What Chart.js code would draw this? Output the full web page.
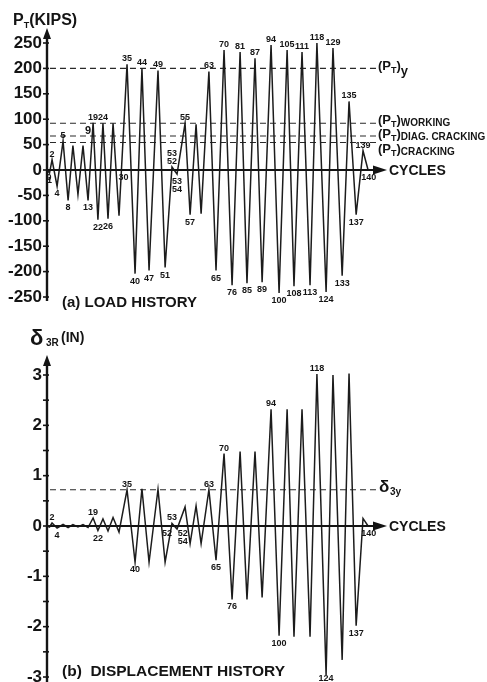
<!DOCTYPE html>
<html><head><meta charset="utf-8">
<script src="https://cdn.jsdelivr.net/npm/chart.js@4.4.1/dist/chart.umd.min.js"></script>
<style>
html,body{margin:0;padding:0;background:#fff;overflow:hidden;width:487px;height:682px}
canvas{position:absolute;left:0}
#a{top:0}
#b{top:315px}
</style></head><body>
<canvas id="a" width="487" height="315"></canvas>
<canvas id="b" width="487" height="367"></canvas>
<script>
// ---- data ----
// position of each reversal point along the CYCLES axis (axis runs 0..140)
const cyclePos = [0,1.1,2.2,4.4,7.0,9.2,11.3,13.5,15.7,17.9,20.1,22.2,24.4,26.6,28.8,31.4,34.9,38.4,41.4,44.5,48.4,51.5,54.5,56.7,60.2,62.4,65.0,67.2,70.6,73.7,77.2,80.7,84.2,87.2,90.7,93.8,97.7,101.2,104.7,107.7,111.2,114.7,117.7,121.7,124.7,128.7,131.7,134.8,137.8,140.0];
// (a) load history, P_T in kips
const loadKips = [0,-6,20,-32,57,-60,48,-48,48,-60,93,-98,92,-96,92,-90,208,-204,200,-198,196,-192,6,-8,92,-88,90,-86,194,-198,236,-227,232,-223,220,-221,246,-242,236,-229,232,-227,250,-240,240,-208,135,-88,38,0];
// (b) displacement history, delta_3R in inches
const dispIn = [0,-0.02,0.06,-0.04,0.03,-0.03,0.03,-0.02,0.03,-0.03,0.16,-0.09,0.14,-0.1,0.17,-0.12,0.72,-0.72,0.74,-0.72,0.73,-0.72,0.05,-0.06,0.38,-0.35,0.4,-0.35,0.72,-0.68,1.44,-1.46,1.48,-1.46,1.48,-1.42,2.32,-2.18,2.32,-2.2,2.32,-2.2,3.02,-2.96,3.0,-2.66,3.03,-1.98,0.15,0];
// reference levels
const loadLevels = [200, 92, 67, 54];        // (PT)y, working, diag. cracking, cracking
const loadLevelNames = ['y', 'WORKING', 'DIAG. CRACKING', 'CRACKING'];
const dispLevels = [0.72];                   // delta_3y
const levelSpan = [1.3, 143.9];
// tick labels
const loadTicks = [-250,-200,-150,-100,-50,0,50,100,150,200,250];
const dispTicks = [-3,-2.5,-2,-1.5,-1,-0.5,0,0.5,1,1.5,2,2.5,3];
// cycle numbers written at reversal points: [vertex index, text]
const loadCycleLabels = [[1,'1'],[2,'2'],[3,'4'],[4,'5'],[5,'8'],[9,'13'],[10,'19'],[11,'22'],[12,'24'],[13,'26'],[16,'35'],[17,'40'],[18,'44'],[19,'47'],[20,'49'],[21,'51'],[22,'53\n52'],[23,'53\n54'],[24,'55'],[25,'57'],[28,'63'],[29,'65'],[30,'70'],[31,'76'],[32,'81'],[33,'85'],[34,'87'],[35,'89'],[36,'94'],[37,'100'],[38,'105'],[39,'108'],[40,'111'],[41,'113'],[42,'118'],[43,'124'],[44,'129'],[45,'133'],[46,'135'],[47,'137'],[48,'139']];
const loadAxisLabels = [[0.9,'0'],[33.4,'30'],[140.3,'140']];
const loadFreeLabels = [[17.9,77,'9']];
const dispCycleLabels = [[2,'2'],[3,'4'],[10,'19'],[11,'22'],[16,'35'],[17,'40'],[22,'53'],[28,'63'],[29,'65'],[30,'70'],[31,'76'],[36,'94'],[37,'100'],[42,'118'],[43,'124'],[47,'137']];
const dispAxisLabels = [[52.3,'52'],[59.2,'52\n54'],[140.3,'140']];

// ---- drawing helpers ----
const FONT = "'Liberation Sans', Arial, Helvetica, sans-serif";
const INK = '#141414';
function rich(ctx, x, y, segs) {
  for (const [t, s, dy] of segs) {
    ctx.font = `bold ${s}px ${FONT}`;
    ctx.fillText(t, x, y + dy);
    x += ctx.measureText(t).width;
  }
  return x;
}
function arrowUp(ctx, x, tip) {
  ctx.beginPath(); ctx.moveTo(x, tip); ctx.lineTo(x - 4, tip + 11); ctx.lineTo(x + 4, tip + 11); ctx.closePath(); ctx.fill();
}
function arrowRight(ctx, tip, y) {
  ctx.beginPath(); ctx.moveTo(tip, y); ctx.lineTo(tip - 14, y - 4.5); ctx.lineTo(tip - 14, y + 4.5); ctx.closePath(); ctx.fill();
}
function cycleLabels(chart, values, list, axisList, freeList) {
  const {ctx, scales: {x, y}} = chart;
  const meta = chart.getDatasetMeta(0);
  ctx.font = `bold 9px ${FONT}`;
  ctx.textAlign = 'center';
  for (const [i, txt] of list) {
    const p = meta.data[i];
    const lines = txt.split('\n');
    if (values[i] >= 0) {
      ctx.textBaseline = 'alphabetic';
      lines.slice().reverse().forEach((l, k) => ctx.fillText(l, p.x, p.y - 3 - k * 8));
    } else {
      ctx.textBaseline = 'top';
      const yy = Math.min(p.y + 3, chart.height - 8 - (lines.length - 1) * 8);
      lines.forEach((l, k) => ctx.fillText(l, p.x, yy + k * 8));
    }
  }
  const y0 = y.getPixelForValue(0);
  ctx.textBaseline = 'top';
  for (const [pos, txt] of axisList) {
    txt.split('\n').forEach((l, k) => ctx.fillText(l, x.getPixelForValue(pos), y0 + 3 + k * 8));
  }
  ctx.textBaseline = 'middle';
  for (const [pos, v, txt] of (freeList || [])) {
    ctx.font = `bold 11px ${FONT}`;
    ctx.fillText(txt, x.getPixelForValue(pos), y.getPixelForValue(v));
  }
  ctx.textAlign = 'left';
  ctx.textBaseline = 'alphabetic';
}
function axes(chart, ticks, topTip, bottomEnd) {
  const {ctx, chartArea: ca, scales: {y}} = chart;
  const ax = ca.left, y0 = y.getPixelForValue(0);
  ctx.lineWidth = 2.4;
  ctx.beginPath(); ctx.moveTo(ax, bottomEnd); ctx.lineTo(ax, topTip + 8); ctx.stroke();
  arrowUp(ctx, ax, topTip);
  ctx.lineWidth = 1.6;
  for (const t of ticks) {
    const py = y.getPixelForValue(t);
    ctx.beginPath(); ctx.moveTo(ax - 4, py); ctx.lineTo(ax + 2, py); ctx.stroke();
  }
  const tip = ca.right - 4;
  ctx.lineWidth = 2.2;
  ctx.beginPath(); ctx.moveTo(ax, y0); ctx.lineTo(tip - 10, y0); ctx.stroke();
  arrowRight(ctx, tip, y0);
  ctx.font = `bold 14px ${FONT}`;
  ctx.fillText('CYCLES', tip + 2, y0 + 5);
}

const decorA = {
  id: 'decorA',
  afterDraw(chart) {
    const {ctx, chartArea: ca, scales: {y}} = chart;
    ctx.save();
    ctx.fillStyle = INK; ctx.strokeStyle = INK;
    axes(chart, loadTicks, 28, ca.bottom + 4);
    cycleLabels(chart, loadKips, loadCycleLabels, loadAxisLabels, loadFreeLabels);
    // title
    rich(ctx, 13, 25, [['P', 16, 0], ['T', 9, 3], ['(KIPS)', 16, 0]]);
    // reference level names
    const lx = 378;
    const dys = [2, 1, 2, 10];
    loadLevels.forEach((v, i) => {
      const py = y.getPixelForValue(v) + dys[i];
      const name = loadLevelNames[i];
      const end = rich(ctx, lx, py, [['(P', 13, 0], ['T', 9, 3], [')', 13, 0]]);
      if (i === 0) rich(ctx, end, py, [[name, 13, 5]]);
      else rich(ctx, end, py, [[name, 10, 2]]);
    });
    ctx.font = `bold 15px ${FONT}`;
    ctx.fillText('(a) LOAD HISTORY', 62, 307);
    ctx.restore();
  }
};
const decorB = {
  id: 'decorB',
  afterDraw(chart) {
    const {ctx, chartArea: ca, scales: {y}} = chart;
    ctx.save();
    ctx.fillStyle = INK; ctx.strokeStyle = INK;
    axes(chart, dispTicks, 40, chart.height);
    cycleLabels(chart, dispIn, dispCycleLabels, dispAxisLabels, []);
    // title
    ctx.font = `bold 22px ${FONT}`; ctx.fillText('\u03b4', 30, 30);
    ctx.font = `bold 10px ${FONT}`; ctx.fillText('3R', 46, 31);
    ctx.font = `bold 14px ${FONT}`; ctx.fillText('(IN)', 61, 27);
    // delta_3y
    const py = y.getPixelForValue(dispLevels[0]) + 2;
    ctx.font = `bold 17px ${FONT}`; ctx.fillText('\u03b4', 379, py);
    ctx.font = `bold 10px ${FONT}`; ctx.fillText('3y', 390, py + 3);
    ctx.font = `bold 15.5px ${FONT}`;
    ctx.fillText('(b)  DISPLACEMENT HISTORY', 62, 361);
    ctx.restore();
  }
};

function levelSets(levels) {
  return levels.map(v => ({
    data: [{x: levelSpan[0], y: v}, {x: levelSpan[1], y: v}],
    showLine: true, borderColor: '#2a2a2a', borderWidth: 1.1, borderDash: [6, 4],
    pointRadius: 0, clip: false
  }));
}
function makeChart(id, values, levels, ticks, min, max, pad, labelFn, plugin) {
  return new Chart(document.getElementById(id), {
    type: 'scatter',
    data: {
      datasets: [{
        data: cyclePos.map((x, i) => ({x, y: values[i]})),
        showLine: true, borderColor: '#1c1c1c', borderWidth: 1.5,
        pointRadius: 0, tension: 0, clip: false
      }, ...levelSets(levels)]
    },
    options: {
      responsive: false, animation: false, events: [],
      layout: {padding: pad},
      plugins: {legend: {display: false}, tooltip: {enabled: false}},
      scales: {
        x: {type: 'linear', min: 0, max: 150, display: false},
        y: {
          type: 'linear', min, max,
          grid: {display: false, drawTicks: false},
          border: {display: false},
          afterBuildTicks: s => { s.ticks = ticks.map(v => ({value: v})); },
          afterFit: s => { s.width = 40; s.paddingTop = 0; s.paddingBottom = 0; },
          ticks: {
            padding: 5, color: INK, autoSkip: false,
            font: {family: FONT, size: 17, weight: 'bold'},
            callback: labelFn
          }
        }
      }
    },
    plugins: [plugin]
  });
}
makeChart('a', loadKips, loadLevels, loadTicks, -250, 250,
  {left: 7, right: 96, top: 43, bottom: 18}, v => String(v), decorA);
makeChart('b', dispIn, dispLevels, dispTicks, -3, 3,
  {left: 7, right: 96, top: 60, bottom: 5}, v => (Number.isInteger(v) ? String(v) : ''), decorB);
</script>
</body></html>
